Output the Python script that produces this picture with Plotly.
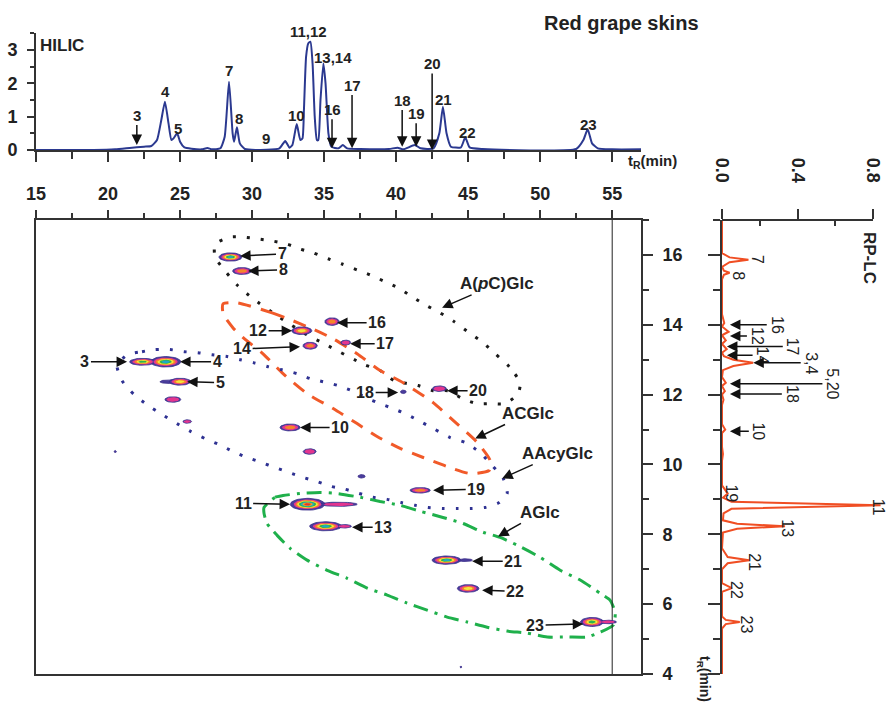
import numpy as np
import plotly.graph_objects as go

FONT = "Liberation Sans, Arial, sans-serif"
W, H = 887, 703

# ---------------- HILIC chromatogram (1st dimension) ----------------
hilic_time = [15.0, 19.0, 20.5, 21.5, 22.5, 23.0, 23.4, 23.7, 23.95, 24.2, 24.4, 24.55, 24.8, 25.0,
              25.3, 25.8, 26.5, 26.9, 27.2, 27.8, 28.1, 28.4, 28.65, 28.75, 28.95, 29.15, 29.5,
              31.0, 31.9, 32.3, 32.6, 32.8, 33.1, 33.35, 33.5, 33.6, 33.75, 33.9, 34.05, 34.2,
              34.35, 34.5, 34.6, 34.75, 34.95, 35.1, 35.3, 35.5, 36.0, 36.3, 36.6, 37.5, 39.5,
              40.1, 40.5, 41.3, 41.7, 42.6, 43.0, 43.25, 43.5, 43.8, 44.5, 44.8, 45.1, 46.0,
              52.5, 53.0, 53.3, 53.6, 54.0, 55.0, 57.0]
hilic_signal = [0.0, 0.0, 0.02, 0.06, 0.1, 0.12, 0.3, 0.9, 1.45, 0.8, 0.3, 0.35, 0.5, 0.25,
                0.08, 0.04, 0.02, 0.06, 0.02, 0.05, 0.4, 2.05, 0.5, 0.25, 0.68, 0.2, 0.03,
                0.01, 0.05, 0.27, 0.07, 0.15, 0.78, 0.3, 0.35, 1.2, 2.8, 3.2, 3.25, 2.6,
                1.0, 0.3, 0.3, 1.5, 2.6, 2.0, 0.5, 0.1, 0.05, 0.15, 0.05, 0.03, 0.03,
                0.07, 0.02, 0.15, 0.05, 0.05, 0.5, 1.3, 0.5, 0.1, 0.08, 0.38, 0.08, 0.03,
                0.03, 0.3, 0.62, 0.2, 0.05, 0.02, 0.02]

# HILIC peak labels; arrow tip (signal) given for labels that carry a down-arrow
hilic_labels = ["3", "4", "5", "7", "8", "9", "10", "13,14", "16", "17", "18", "19",
                "20", "21", "22", "23"]
hilic_label_t = [22.0, 23.96, 24.86, 28.4, 29.1, 31.0, 33.06, 35.63, 35.55, 36.94, 40.42,
                 41.39, 42.5, 43.26, 44.93, 53.33]
hilic_label_y = [1.05, 1.75, 0.65, 2.4, 0.95, 0.35, 1.05, 2.78, 1.22, 1.95, 1.5, 1.1,
                 2.6, 1.52, 0.53, 0.78]
hilic_arrow_tip = [0.15, None, None, None, None, None, None, None, 0.05, 0.05, 0.1, 0.1,
                   0.0, None, None, None]
hilic_top_label = "11,12"
hilic_top_label_t = 33.9

# ---------------- RP-LC chromatogram (2nd dimension, rotated) ----------------
rp_time = [17.0, 16.2, 16.05, 15.93, 15.86, 15.79, 15.66, 15.55, 15.49, 15.43, 15.3, 14.3, 14.05,
           13.95, 13.8, 13.7, 13.55, 13.45, 13.3, 13.2, 13.1, 13.0, 12.91, 12.82, 12.7, 12.5,
           12.34, 12.25, 12.1, 12.0, 11.85, 11.7, 11.15, 11.0, 10.9, 10.5, 10.3, 10.1, 9.4,
           9.17, 9.05, 8.93, 8.83, 8.73, 8.6, 8.4, 8.3, 8.23, 8.16, 8.05, 7.6, 7.35, 7.26,
           7.17, 7.0, 6.6, 6.46, 6.35, 5.65, 5.55, 5.49, 5.43, 5.3, 4.0]
rp_signal = [0.0, 0.002, 0.0, 0.04, 0.14, 0.04, 0.0, 0.01, 0.04, 0.01, 0.0, 0.0, 0.012,
             0.0, 0.035, 0.0, 0.02, 0.0, 0.025, 0.0, 0.01, 0.06, 0.165, 0.06, 0.005, 0.0,
             0.02, 0.0, 0.015, 0.0, 0.008, 0.0, 0.0, 0.017, 0.0, 0.0, 0.005, 0.0, 0.0,
             0.03, 0.005, 0.05, 0.84, 0.05, 0.008, 0.005, 0.08, 0.334, 0.08, 0.005, 0.0, 0.03, 0.144,
             0.03, 0.0, 0.0, 0.052, 0.0, 0.0, 0.02, 0.094, 0.02, 0.0, 0.0]

rp_labels = ["7", "8", "16", "12", "17", "14", "3,4", "5,20", "18", "10", "19", "11", "13",
             "21", "22", "23"]
rp_label_i = [0.185, 0.083, 0.29, 0.185, 0.375, 0.215, 0.47, 0.585, 0.37, 0.195, 0.053, 0.83, 0.35,
              0.175, 0.08, 0.13]
rp_label_t = [15.86, 15.4, 14.0, 13.68, 13.38, 13.13, 12.91, 12.31, 12.02, 10.95, 9.17, 8.77,
              8.17, 7.2, 6.4, 5.43]
rp_arrow_tip = [None, None, 0.042, 0.042, 0.026, 0.026, 0.166, 0.042, 0.042, 0.042, None, None,
                None, None, None, None]

# ---------------- 2D contour spots (HILIC tR, RP-LC tR) ----------------
spot_x = [24.2, 36.0, 36.4, 44.8, 54.7,
          28.5, 29.3, 33.45, 34.03, 35.55, 36.5, 22.4, 24.0, 25.0, 24.5, 25.5, 20.5, 32.64,
          34.0, 37.6, 33.85, 35.1, 41.67, 40.5, 43.0, 43.5, 45.0, 53.6, 44.5]
spot_y = [12.37, 8.86, 8.23, 7.26, 5.49,
          15.94, 15.54, 13.83, 13.40, 14.09, 13.49, 12.94, 12.94, 12.37, 11.86, 11.23, 10.37,
          11.06, 10.37, 9.66, 8.86, 8.23, 9.26, 12.08, 12.17, 7.26, 6.45, 5.49, 4.2]
spot_wx = [0.6, 1.3, 0.5, 0.5, 0.6,
           0.8, 0.65, 0.7, 0.5, 0.5, 0.35, 0.9, 1.05, 0.75, 0.55, 0.3, 0.08, 0.7,
           0.45, 0.25, 1.2, 1.1, 0.7, 0.2, 0.5, 1.0, 0.75, 0.8, 0.06]
spot_wy = [0.05, 0.06, 0.05, 0.04, 0.05,
           0.12, 0.10, 0.11, 0.10, 0.11, 0.07, 0.10, 0.15, 0.10, 0.08, 0.05, 0.03, 0.10,
           0.08, 0.05, 0.17, 0.13, 0.08, 0.05, 0.08, 0.12, 0.11, 0.13, 0.03]
spot_levels = [1, 2, 2, 1, 2,
               6, 3, 4, 3, 3, 2, 5, 6, 4, 2, 2, 1, 3,
               2, 1, 8, 6, 3, 1, 2, 6, 4, 5, 1]
level_colors = ["#4a3d9c", "#e4358f", "#f4862a", "#f5e33c", "#2eb34b", "#1fa8c6", "#f7a21b",
                "#e8312a"]

spot_names = ["7", "8", "12", "14", "16", "17", "3", "4", "5", "10", "11", "13", "18", "20",
              "19", "21", "22", "23"]
spot_label_x = [32.08, 32.15, 30.42, 29.31, 38.68, 39.24, 18.4, 27.57, 27.78, 36.11, 29.38,
                39.1, 37.85, 45.69, 45.56, 48.13, 48.26, 49.65]
spot_label_y = [16.03, 15.57, 13.83, 13.31, 14.06, 13.46, 12.94, 12.94, 12.34, 11.06, 8.89,
                8.2, 12.06, 12.11, 9.29, 7.23, 6.37, 5.4]
spot_tip_x = [29.17, 29.72, 32.78, 33.33, 35.9, 36.81, 21.32, 25.0, 25.49, 33.33, 32.64,
              36.94, 40.14, 43.54, 42.57, 45.28, 45.97, 52.99]
spot_tip_y = [15.97, 15.54, 13.83, 13.37, 14.06, 13.46, 12.94, 12.94, 12.37, 11.06, 8.86,
              8.2, 12.06, 12.11, 9.26, 7.23, 6.40, 5.43]

# ---------------- class outlines ----------------
apcglc_x = [48.61, 47.85, 46.88, 45.97, 45.07, 44.03, 43.06, 42.15, 41.11, 40.14, 39.10, 38.19,
            37.29, 36.25, 35.28, 34.24, 33.33, 32.43, 31.39, 30.42, 29.38, 28.47, 27.43, 27.43,
            28.13, 29.03, 30.0, 31.94, 33.82, 34.86, 37.78, 38.89, 39.86, 41.53, 42.57, 43.61,
            44.58, 45.63, 46.53, 47.57, 48.47, 48.61]
apcglc_y = [12.34, 12.8, 13.17, 13.51, 13.77, 14.09, 14.34, 14.54, 14.8, 15.06, 15.26, 15.43,
            15.57, 15.74, 15.89, 16.06, 16.17, 16.31, 16.4, 16.46, 16.51, 16.51, 16.31, 15.94,
            15.54, 15.11, 14.77, 14.2, 13.71, 13.49, 12.86, 12.69, 12.4, 12.26, 12.11, 12.11,
            11.89, 11.74, 11.74, 11.74, 12.03, 12.34]
acglc_x = [28.96, 31.39, 32.5, 34.03, 35.63, 37.29, 38.89, 40.49, 42.57, 43.96, 45.63, 46.53,
           46.46, 45.14, 43.54, 41.88, 40.28, 38.68, 37.29, 35.63, 33.82, 32.15, 30.76, 29.38,
           28.68, 27.99, 27.99, 28.96]
acglc_y = [14.63, 14.34, 14.17, 13.91, 13.6, 13.17, 12.69, 12.34, 11.77, 11.26, 10.63, 10.11,
           9.83, 9.74, 9.94, 10.2, 10.46, 10.8, 11.17, 11.6, 12.03, 12.6, 13.17, 13.63,
           13.91, 14.31, 14.6, 14.63]
aacyglc_x = [21.32, 22.36, 23.26, 24.31, 25.28, 26.25, 27.22, 28.26, 29.17, 30.14, 31.11, 32.08,
             33.13, 34.03, 34.93, 35.97, 36.94, 37.92, 38.89, 39.79, 40.76, 41.81, 42.71, 43.75,
             44.79, 45.83, 46.67, 47.43, 47.71, 47.15, 46.18, 45.21, 44.24, 43.26, 42.22, 41.32,
             40.35, 39.38, 38.4, 37.43, 36.46, 35.49, 34.51, 33.54, 32.57, 31.6, 30.63, 29.65,
             28.68, 27.71, 26.74, 25.76, 24.79, 23.75, 22.78, 21.81, 20.97, 20.63, 21.32]
aacyglc_y = [13.14, 13.23, 13.29, 13.29, 13.23, 13.2, 13.14, 13.09, 13.0, 12.91, 12.8, 12.71,
             12.6, 12.46, 12.37, 12.26, 12.11, 11.91, 11.74, 11.6, 11.43, 11.2, 11.0, 10.77,
             10.63, 10.34, 9.97, 9.6, 9.17, 8.91, 8.77, 8.74, 8.74, 8.74, 8.77, 8.83,
             8.91, 9.0, 9.06, 9.17, 9.29, 9.37, 9.51, 9.63, 9.77, 9.91, 10.06, 10.2,
             10.37, 10.57, 10.74, 10.94, 11.17, 11.43, 11.69, 12.0, 12.4, 12.83, 13.14]
aglc_x = [30.83, 31.6, 32.15, 33.33, 34.72, 35.9, 37.5, 38.89, 40.28, 41.67, 43.19, 44.65, 46.04,
          47.22, 48.4, 50.0, 51.39, 52.78, 54.17, 54.86, 55.21, 55.07, 54.17, 53.26, 51.88,
          50.49, 49.1, 47.71, 46.32, 44.93, 43.54, 42.15, 40.76, 39.38, 37.99, 36.6, 35.21,
          33.82, 32.64, 31.74, 31.04, 30.83, 30.83]
aglc_y = [8.77, 9.06, 9.11, 9.17, 9.2, 9.17, 9.06, 8.94, 8.83, 8.66, 8.49, 8.31, 8.06,
          7.91, 7.69, 7.34, 6.97, 6.69, 6.31, 6.11, 5.74, 5.4, 5.2, 5.06, 5.06,
          5.06, 5.17, 5.23, 5.34, 5.49, 5.63, 5.83, 6.03, 6.26, 6.46, 6.74, 6.97,
          7.26, 7.6, 7.97, 8.31, 8.6, 8.77]

class_names = ["A(<i>p</i>C)Glc", "ACGlc", "AAcyGlc", "AGlc"]
class_label_x = [47.01, 49.17, 51.18, 50.0]
class_label_y = [15.17, 11.46, 10.31, 8.63]
class_tip_x = [43.19, 45.49, 47.36, 47.08]
class_tip_y = [14.49, 10.74, 9.6, 7.94]

main_x_range = [15, 57]
main_y_range = [4, 17]
hilic_y_range = [0, 3.5]
rp_x_range = [0, 0.86]
rp_ticks = [0.0, 0.4, 0.8]
boundary_time = 55

# ---------------- figure ----------------
def px_x(p):
    return p / W


def px_y(p):
    return 1 - p / H


fig = go.Figure()

# class outlines
outline_specs = [
    (apcglc_x, apcglc_y, "#1a1a1a", "3px,11px"),
    (acglc_x, acglc_y, "#f15a29", "13px,10px"),
    (aacyglc_x, aacyglc_y, "#2e3192", "3px,11px"),
    (aglc_x, aglc_y, "#1fb04b", "15px,7px,3px,7px"),
]
for ox, oy, col, dash in outline_specs:
    fig.add_trace(go.Scatter(x=ox, y=oy, mode="lines", xaxis="x", yaxis="y",
                             line=dict(color=col, width=3, dash=dash, shape="spline", smoothing=0.6),
                             hoverinfo="skip", showlegend=False))

# boundary line
fig.add_trace(go.Scatter(x=[boundary_time, boundary_time], y=main_y_range, mode="lines",
                         xaxis="x", yaxis="y", line=dict(color="#222", width=1),
                         hoverinfo="skip", showlegend=False))

# contour spots as nested filled ellipses
theta = np.linspace(0, 2 * np.pi, 48)
max_level = max(spot_levels)
for k in range(1, max_level + 1):
    xs, ys = [], []
    for cx, cy, wx, wy, n in zip(spot_x, spot_y, spot_wx, spot_wy, spot_levels):
        if n < k:
            continue
        if k == 1:
            f = 1.0
        else:
            f = 0.8 * (1 - (k - 2) / n)
        xs += list(cx + wx * f * np.cos(theta)) + [None]
        ys += list(cy + wy * f * np.sin(theta)) + [None]
    fig.add_trace(go.Scatter(x=xs, y=ys, mode="lines", fill="toself", xaxis="x", yaxis="y",
                             fillcolor=level_colors[k - 1],
                             line=dict(color="#3b2f8a" if k == 1 else level_colors[k - 1],
                                       width=0.8 if k == 1 else 0),
                             hoverinfo="skip", showlegend=False))

# HILIC trace
fig.add_trace(go.Scatter(x=hilic_time, y=hilic_signal, mode="lines", xaxis="x2", yaxis="y2",
                         line=dict(color="#2b3990", width=2, shape="spline", smoothing=0.5),
                         hoverinfo="skip", showlegend=False))

# RP-LC trace
fig.add_trace(go.Scatter(x=rp_signal, y=rp_time, mode="lines", xaxis="x3", yaxis="y3",
                         line=dict(color="#f04e23", width=2),
                         hoverinfo="skip", showlegend=False))

annotations = []
lab_font = dict(family=FONT, size=16, color="#222", weight="bold")
arrow_style = dict(showarrow=True, arrowhead=2, arrowsize=1.4, arrowwidth=1.5, arrowcolor="#111")

for name, lx, ly, tx, ty in zip(spot_names, spot_label_x, spot_label_y, spot_tip_x, spot_tip_y):
    annotations.append(dict(text=name, x=tx, y=ty, ax=lx, ay=ly, xref="x", yref="y",
                            axref="x", ayref="y", font=lab_font, **arrow_style))
for name, lx, ly, tx, ty in zip(class_names, class_label_x, class_label_y, class_tip_x, class_tip_y):
    annotations.append(dict(text=name, x=tx, y=ty, ax=lx, ay=ly, xref="x", yref="y",
                            axref="x", ayref="y",
                            font=dict(family=FONT, size=17, color="#222", weight="bold"),
                            **arrow_style))

hfont = dict(family=FONT, size=15, color="#222", weight="bold")
for name, lx, ly, tip in zip(hilic_labels, hilic_label_t, hilic_label_y, hilic_arrow_tip):
    if tip is None:
        annotations.append(dict(text=name, x=lx, y=ly, xref="x2", yref="y2", showarrow=False,
                                font=hfont))
    else:
        annotations.append(dict(text=name, x=lx, y=tip, ax=lx, ay=ly, xref="x2", yref="y2",
                                axref="x2", ayref="y2", font=hfont, **arrow_style))
annotations.append(dict(text=hilic_top_label, x=hilic_top_label_t, y=px_y(31), xref="x2",
                        yref="paper", xanchor="center", yanchor="middle", showarrow=False,
                        font=hfont))

rfont = dict(family=FONT, size=16, color="#222")
for name, li, lt, tip in zip(rp_labels, rp_label_i, rp_label_t, rp_arrow_tip):
    if tip is None:
        annotations.append(dict(text=name, x=li, y=lt, xref="x3", yref="y3", showarrow=False,
                                textangle=90, font=rfont))
    else:
        annotations.append(dict(text=name, x=tip, y=lt, ax=li, ay=lt, xref="x3", yref="y3",
                                axref="x3", ayref="y3", textangle=90, font=rfont, **arrow_style))

big = dict(family=FONT, color="#222", weight="bold")
paper_anchor = dict(xref="paper", yref="paper", xanchor="center", yanchor="middle",
                    showarrow=False)
annotations += [
    dict(text="Red grape skins", x=px_x(621), y=px_y(23), font=dict(big, size=20), **paper_anchor),
    dict(text="HILIC", x=px_x(62), y=px_y(46), font=dict(big, size=17), **paper_anchor),
    dict(text="RP-LC", x=px_x(870), y=px_y(258), textangle=90, font=dict(big, size=17),
         **paper_anchor),
    dict(text="t<sub>R</sub>(min)", x=px_x(652), y=px_y(162), font=dict(big, size=15),
         **paper_anchor),
    dict(text="t<sub>R</sub>(min)", x=px_x(704), y=px_y(679), textangle=90,
         font=dict(big, size=14), **paper_anchor),
]

axis_common = dict(showgrid=False, zeroline=False, linecolor="#333", linewidth=2,
                   tickcolor="#333", tickwidth=1.5, automargin=False)
tickfont = dict(family=FONT, size=18, color="#222", weight="bold")

main_xd = [px_x(36), px_x(641)]
main_yd = [px_y(674), px_y(220)]
rp_xd = [px_x(722), px_x(722 + rp_x_range[1] * 188.75)]

fig.update_layout(
    width=W, height=H, margin=dict(l=0, r=0, t=0, b=0, autoexpand=False),
    paper_bgcolor="white", plot_bgcolor="rgba(0,0,0,0)",
    showlegend=False,
    xaxis=dict(axis_common, domain=main_xd, range=main_x_range, anchor="y", side="top",
               showline=True, mirror=True, ticks="outside", ticklen=8, tick0=15, dtick=5,
               tickfont=tickfont, ticklabelstandoff=3,
               minor=dict(ticks="outside", ticklen=5, dtick=2.5, tick0=15, tickcolor="#333")),
    yaxis=dict(axis_common, domain=main_yd, range=main_y_range, anchor="x", side="right",
               showline=True, mirror=True, ticks="outside", ticklen=10, tick0=4, dtick=2,
               tickfont=tickfont, ticklabelstandoff=6,
               minor=dict(ticks="outside", ticklen=6, dtick=1, tick0=4, tickcolor="#333")),
    xaxis2=dict(axis_common, domain=main_xd, range=main_x_range, anchor="y2",
                showline=True, ticks="outside", ticklen=10, tick0=15, dtick=5,
                showticklabels=False,
                minor=dict(ticks="outside", ticklen=7, dtick=2.5, tick0=15, tickcolor="#333")),
    yaxis2=dict(axis_common, domain=[px_y(150), px_y(33.4)], range=hilic_y_range, anchor="x2",
                showline=True, ticks="outside", ticklen=7, tick0=0, dtick=1,
                tickfont=tickfont, ticklabelstandoff=6,
                minor=dict(ticks="outside", ticklen=4, dtick=0.5, tick0=0, tickcolor="#333")),
    xaxis3=dict(axis_common, domain=rp_xd, range=rp_x_range, anchor="y3", side="top",
                showline=False, ticks="outside", ticklen=10, tickmode="array",
                tickvals=rp_ticks, ticktext=["%.1f" % v for v in rp_ticks], tickangle=90,
                tickfont=tickfont, ticklabelstandoff=20,
                minor=dict(ticks="inside", ticklen=6, tickvals=[0.2, 0.6], tickcolor="#333")),
    yaxis3=dict(axis_common, domain=main_yd, range=main_y_range, anchor="x3", side="left",
                showline=True, ticks="outside", ticklen=12, tick0=4, dtick=2,
                showticklabels=False,
                minor=dict(ticks="outside", ticklen=7, dtick=1, tick0=4, tickcolor="#333")),
    annotations=annotations,
    shapes=[dict(type="line", xref="x3", yref="y3 domain", x0=rp_ticks[0], x1=rp_ticks[-1],
                 y0=1, y1=1, line=dict(color="#333", width=2))],
)

fig.write_html("out.html")
